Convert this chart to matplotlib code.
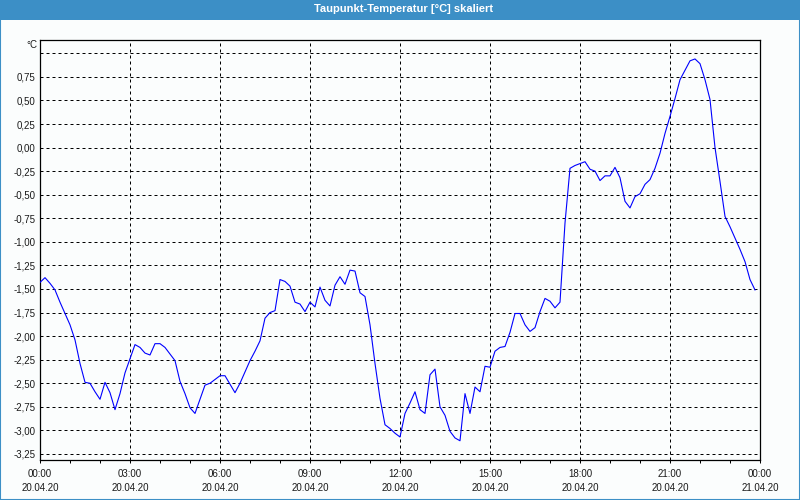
import numpy as np
import matplotlib
matplotlib.use("Agg")
import matplotlib.pyplot as plt
from matplotlib.patches import Rectangle

# ---- data -------------------------------------------------------------
title = "Taupunkt-Temperatur [°C] skaliert"
unit_label = "°C"
step_minutes = 10
values = [
    -1.43, -1.38, -1.44, -1.51, -1.64, -1.76,   # 00:00
    -1.88, -2.04, -2.29, -2.49, -2.50, -2.59,   # 01:00
    -2.67, -2.49, -2.60, -2.78, -2.61, -2.39,   # 02:00
    -2.24, -2.09, -2.12, -2.18, -2.20, -2.08,   # 03:00
    -2.08, -2.12, -2.19, -2.26, -2.48, -2.61,   # 04:00
    -2.76, -2.82, -2.67, -2.52, -2.50, -2.46,   # 05:00
    -2.42, -2.42, -2.51, -2.60, -2.50, -2.38,   # 06:00
    -2.26, -2.16, -2.05, -1.81, -1.75, -1.73,   # 07:00
    -1.40, -1.42, -1.47, -1.64, -1.66, -1.74,   # 08:00
    -1.64, -1.69, -1.48, -1.62, -1.68, -1.46,   # 09:00
    -1.37, -1.45, -1.30, -1.31, -1.54, -1.58,   # 10:00
    -1.88, -2.29, -2.66, -2.94, -2.98, -3.03,   # 11:00
    -3.07, -2.82, -2.71, -2.59, -2.78, -2.82,   # 12:00
    -2.41, -2.35, -2.75, -2.84, -3.01, -3.08,   # 13:00
    -3.11, -2.61, -2.82, -2.54, -2.59, -2.32,   # 14:00
    -2.33, -2.16, -2.12, -2.11, -1.96, -1.76,   # 15:00
    -1.76, -1.88, -1.95, -1.91, -1.74, -1.60,   # 16:00
    -1.63, -1.70, -1.64, -0.80, -0.22, -0.19,   # 17:00
    -0.17, -0.15, -0.23, -0.25, -0.35, -0.30,   # 18:00
    -0.30, -0.21, -0.32, -0.57, -0.64, -0.52,   # 19:00
    -0.49, -0.39, -0.34, -0.22, -0.06, 0.15,    # 20:00
    0.33, 0.52, 0.72, 0.82, 0.92, 0.94,         # 21:00
    0.89, 0.72, 0.51, 0.00, -0.36, -0.73,       # 22:00
    -0.84, -0.96, -1.08, -1.21, -1.40, -1.51,   # 23:00
]
x_tick_hours = [0, 3, 6, 9, 12, 15, 18, 21, 24]
x_tick_labels = ["00:00\n20.04.20", "03:00\n20.04.20", "06:00\n20.04.20",
                 "09:00\n20.04.20", "12:00\n20.04.20", "15:00\n20.04.20",
                 "18:00\n20.04.20", "21:00\n20.04.20", "00:00\n21.04.20"]
y_levels = [-3.25, -3.0, -2.75, -2.5, -2.25, -2.0, -1.75, -1.5, -1.25,
            -1.0, -0.75, -0.5, -0.25, 0.0, 0.25, 0.5, 0.75, 1.0]
y_labels = ["-3,25", "-3,00", "-2,75", "-2,50", "-2,25", "-2,00", "-1,75",
            "-1,50", "-1,25", "-1,00", "-0,75", "-0,50", "-0,25", "0,00",
            "0,25", "0,50", "0,75", ""]

# ---- style ------------------------------------------------------------
plt.rcParams['font.family'] = ['Liberation Sans', 'DejaVu Sans']
BAR_BLUE = '#3C8FC6'
BG = '#FBFDFD'
TXT = '#1a1a1a'

W, H = 800, 500
fig = plt.figure(figsize=(W / 100, H / 100), dpi=100, facecolor=BG)

# title bar and window frame
fig.patches.append(Rectangle((0, 1 - 20 / H), 1, 20 / H, transform=fig.transFigure,
                             facecolor=BAR_BLUE, edgecolor='none', zorder=0))
fig.patches.append(Rectangle((0, 0), 1, 1, transform=fig.transFigure, fill=False,
                             edgecolor=BAR_BLUE, linewidth=1.5, zorder=5))
fig.text(0.505, 1 - 9.5 / H, title, ha='center', va='center', color='white',
         fontsize=8, fontweight='bold')

ax = fig.add_axes([40 / W, 1 - 460 / H, 720 / W, 420 / H])
ax.set_facecolor(BG)

hours = np.arange(len(values)) * step_minutes / 60.0
ax.plot(hours, values, color='#0000FF', linewidth=0.8, antialiased=True, zorder=3)

ax.set_xlim(0, 24)
ax.set_ylim(-3.314, 1.141)

ax.set_xticks(x_tick_hours)
ax.set_xticklabels(x_tick_labels, linespacing=1.55)
ax.set_xticks(np.arange(0, 25, 1), minor=True)
ax.set_yticks(y_levels)
ax.set_yticklabels(y_labels)

ax.tick_params(axis='x', which='both', direction='out', length=2.2, width=0.72,
               colors='black', labelcolor=TXT, labelsize=7, pad=4)
ax.tick_params(axis='y', which='both', length=0, pad=3, labelcolor=TXT, labelsize=7)

ax.grid(axis='y', which='major', color='black', linestyle=(0, (3, 3)), linewidth=0.72)
ax.grid(axis='x', which='major', color='black', linestyle=(0, (3, 3)), linewidth=0.72)
ax.set_axisbelow(True)

for s in ax.spines.values():
    s.set_color('black')
    s.set_linewidth(0.9)

fig.text(37 / W, 1 - 45 / H, unit_label, ha='right', va='center', color=TXT, fontsize=7)

fig.savefig('out.png', dpi=100, facecolor=BG)
